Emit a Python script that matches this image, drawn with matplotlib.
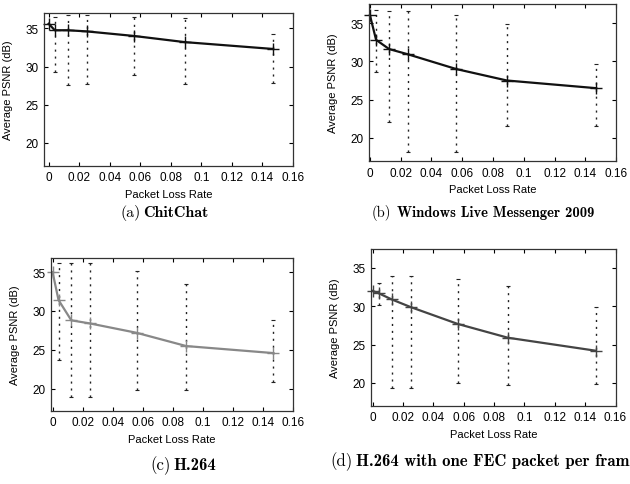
import numpy as np
import matplotlib
matplotlib.use("Agg")
import matplotlib.pyplot as plt

plt.rcParams["font.family"] = ["Liberation Sans", "DejaVu Sans"]

# packet loss rates (first point is the no-loss reference)
loss      = [0, 0.004, 0.0125, 0.025, 0.056, 0.089, 0.147]
loss_bars = loss[1:]

chitchat_mean = [35.6, 34.75, 34.75, 34.6, 34.0, 33.2, 32.3]
chitchat_hi   = [36.5, 36.7, 36.7, 36.5, 36.4, 34.3]
chitchat_lo   = [29.3, 27.6, 27.7, 28.9, 27.7, 27.9]

wlm_mean = [36.0, 32.8, 31.6, 30.9, 29.0, 27.5, 26.5]
wlm_hi   = [36.7, 36.6, 36.6, 36.1, 34.9, 29.6]
wlm_lo   = [28.6, 22.1, 18.2, 18.2, 21.5, 21.6]

h264_mean = [35.0, 31.4, 28.8, 28.4, 27.2, 25.5, 24.6]
h264_hi   = [36.1, 36.1, 36.1, 35.1, 33.4, 28.9]
h264_lo   = [23.7, 19.0, 19.0, 19.8, 19.9, 20.9]

fec_mean = [32.0, 31.7, 30.9, 29.9, 27.7, 25.9, 24.2]
fec_hi   = [33.0, 34.0, 34.0, 33.6, 32.7, 29.9]
fec_lo   = [30.1, 19.4, 19.4, 20.0, 19.7, 19.9]

xticks = [0, 0.02, 0.04, 0.06, 0.08, 0.1, 0.12, 0.14, 0.16]
xtick_labels = ["0", "0.02", "0.04", "0.06", "0.08", "0.1", "0.12", "0.14", "0.16"]
yticks = [20, 25, 30, 35]

fig = plt.figure(figsize=(6.3, 4.85), dpi=100)


def panel(rect, mean, hi, lo, color, xlim, ylim):
    ax = fig.add_axes(rect)
    mean_bars = np.array(mean[1:])
    yerr = [mean_bars - np.array(lo), np.array(hi) - mean_bars]
    eb = ax.errorbar(loss_bars, mean_bars, yerr=yerr, fmt="none", ecolor="#222222",
                     elinewidth=1.0, capsize=1.5, capthick=0.8)
    eb[2][0].set_linestyle((0, (1.5, 3.5)))
    ax.plot(loss, mean, color=color, lw=1.6, marker="+", ms=9, mew=1.0,
            clip_on=False)
    ax.set_xlim(*xlim)
    ax.set_ylim(*ylim)
    ax.set_xticks(xticks)
    ax.set_xticklabels(xtick_labels)
    ax.set_yticks(yticks)
    ax.tick_params(direction="in", top=True, right=True, length=3, labelsize=8.5,
                   pad=4)
    ax.set_xlabel("Packet Loss Rate", fontsize=8, labelpad=4)
    ax.set_ylabel("Average PSNR (dB)", fontsize=8, labelpad=9)
    for s in ax.spines.values():
        s.set_linewidth(0.9)
        s.set_color("#333333")
    return ax


panel([0.070, 0.656, 0.395, 0.315], chitchat_mean, chitchat_hi, chitchat_lo,
      "#111111", (-0.003, 0.16), (17, 37))
panel([0.586, 0.666, 0.392, 0.324], wlm_mean, wlm_hi, wlm_lo,
      "#111111", (-0.0005, 0.16), (17, 37.5))
panel([0.081, 0.151, 0.384, 0.315], h264_mean, h264_hi, h264_lo,
      "#888888", (-0.001, 0.16), (17.2, 36.8))
panel([0.589, 0.161, 0.388, 0.324], fec_mean, fec_hi, fec_lo,
      "#444444", (-0.001, 0.16), (17, 37.5))

# captions: label in roman, name in bold (Computer Modern look)
captions = [
    ("(a)", "ChitChat", 120, 143, 213, 11.5),
    ("(b)", "Windows Live Messenger 2009", 372, 397, 213, 10.5),
    ("(c)", "H.264", 150, 173, 466, 12),
    ("(d)", "H.264 with one FEC packet per fram", 330, 356, 462, 12),
]
W, H = 630, 485
for tag, name, x_tag, x_name, y, size in captions:
    fig.text(x_tag / W, 1 - y / H, tag, fontfamily="cmr10", fontsize=size,
             ha="left", va="center")
    fig.text(x_name / W, 1 - y / H, name, fontfamily="cmb10", fontsize=size,
             ha="left", va="center")

fig.savefig("out.png", dpi=100)
